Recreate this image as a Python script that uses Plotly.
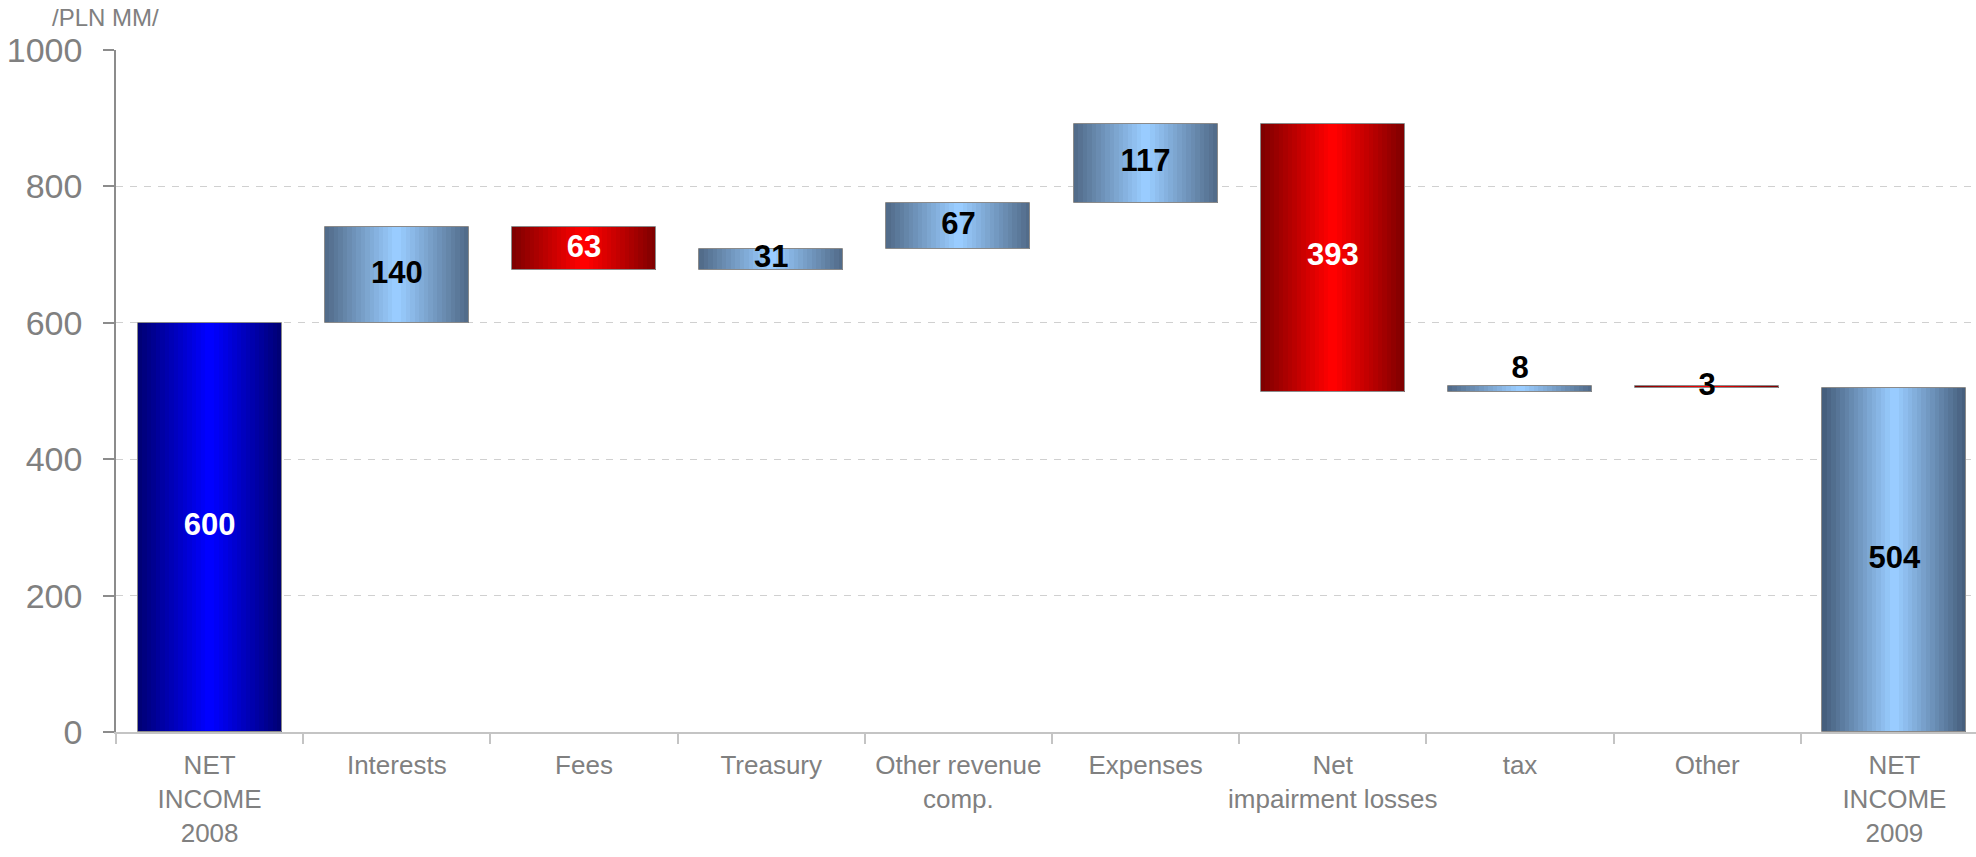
import plotly.graph_objects as go

# ---------------- data ----------------
categories = ["NET<br>INCOME<br>2008", "Interests", "Fees", "Treasury",
              "Other revenue<br>comp.", "Expenses", "Net<br>impairment losses",
              "tax", "Other", "NET<br>INCOME<br>2009"]
values = [600, 140, -63, 31, 67, 117, -393, 8, -3, 504]
kinds = ["start", "inc", "dec", "inc", "inc", "inc", "dec", "inc", "dec", "end"]
label_colors = ["white", "black", "white", "black", "black", "black", "white", "black", "black", "black"]
label_above = [False, False, False, False, False, False, False, True, False, False]
y_ticks = [0, 200, 400, 600, 800, 1000]

# ---------------- waterfall geometry from data ----------------
bases, heights = [], []
running = 0
for k, v in zip(kinds, values):
    if k in ("start", "end"):
        bases.append(0)
        heights.append(v)
        running = v
    else:
        if v >= 0:
            bases.append(running)
            heights.append(v)
        else:
            bases.append(running + v)
            heights.append(-v)
        running += v

label_y = [b + h if above else b + h / 2 for b, h, above in zip(bases, heights, label_above)]
label_pos = ["top center" if above else "middle center" for above in label_above]
label_text = [str(abs(v)) for v in values]

# ---------------- styles ----------------
GRAD = {
    "start": ((0, 0, 118), (0, 0, 255)),
    "inc": ((82, 108, 138), (153, 204, 255)),
    "end": ((70, 95, 125), (153, 204, 255)),
    "dec": ((128, 0, 0), (255, 0, 0)),
}
FONT = "Liberation Sans Narrow, Arial Narrow, Liberation Sans, Arial, sans-serif"
BAR_W = 0.77
N_LAYERS = 16


def mix(c0, c1, t):
    return "rgb({},{},{})".format(*[round(a + (b - a) * t) for a, b in zip(c0, c1)])


fig = go.Figure()

for i in range(N_LAYERS):
    t = i / (N_LAYERS - 1)
    w = BAR_W * (1 - i / N_LAYERS)
    colors = [mix(GRAD[k][0], GRAD[k][1], t) for k in kinds]
    fig.add_trace(go.Bar(
        x=categories, y=heights, base=bases, width=w,
        marker=dict(color=colors, line=dict(width=0)),
        hoverinfo="skip", showlegend=False,
    ))

# outline
fig.add_trace(go.Bar(
    x=categories, y=heights, base=bases, width=BAR_W,
    marker=dict(color="rgba(0,0,0,0)", line=dict(width=1, color="#8a8a8a")),
    hoverinfo="skip", showlegend=False,
))

# value labels
fig.add_trace(go.Scatter(
    x=categories, y=label_y, mode="text", text=label_text,
    textposition=label_pos,
    textfont=dict(family=FONT, size=31, color=label_colors, weight="bold"),
    hoverinfo="skip", showlegend=False,
))

plot_left = 116
plot_top = 50
plot_h = 682
plot_w = 1976 - plot_left
cat_px = 187.2
x_max = -0.5 + plot_w / cat_px

fig.update_layout(
    width=1976, height=857,
    margin=dict(l=plot_left, r=0, t=plot_top, b=857 - plot_top - plot_h, autoexpand=False),
    paper_bgcolor="white", plot_bgcolor="white",
    barmode="overlay", bargap=0,
    font=dict(family=FONT, color="#7f7f7f"),
    xaxis=dict(
        type="category", categoryorder="array", categoryarray=categories,
        range=[-0.5, x_max], automargin=False,
        showline=True, linecolor="#c4c4c4", linewidth=2,
        ticks="outside", ticklen=10, tickcolor="#c4c4c4", tickwidth=1.5,
        tickson="boundaries", showgrid=False, tickangle=0,
        tickfont=dict(family=FONT, size=26, color="#808080"),
        ticklabelstandoff=9,
    ),
    yaxis=dict(
        range=[0, 1000], tickvals=y_ticks, automargin=False,
        showline=True, linecolor="#8c8c8c", linewidth=1.5,
        ticks="outside", ticklen=11, tickcolor="#8c8c8c", tickwidth=1.5,
        showgrid=True, gridcolor="#d0d0d0", gridwidth=1, griddash="7px,7px",
        zeroline=False,
        tickfont=dict(family=FONT, size=34, color="#808080"),
        ticklabelstandoff=14,
    ),
    annotations=[dict(
        text="/PLN MM/", xref="paper", yref="paper",
        x=(50 - plot_left) / plot_w, y=1 + (plot_top - 33) / plot_h,
        xanchor="left", yanchor="bottom", showarrow=False,
        font=dict(family=FONT, size=24, color="#808080"),
    )],
)

fig.write_html("out.html")
